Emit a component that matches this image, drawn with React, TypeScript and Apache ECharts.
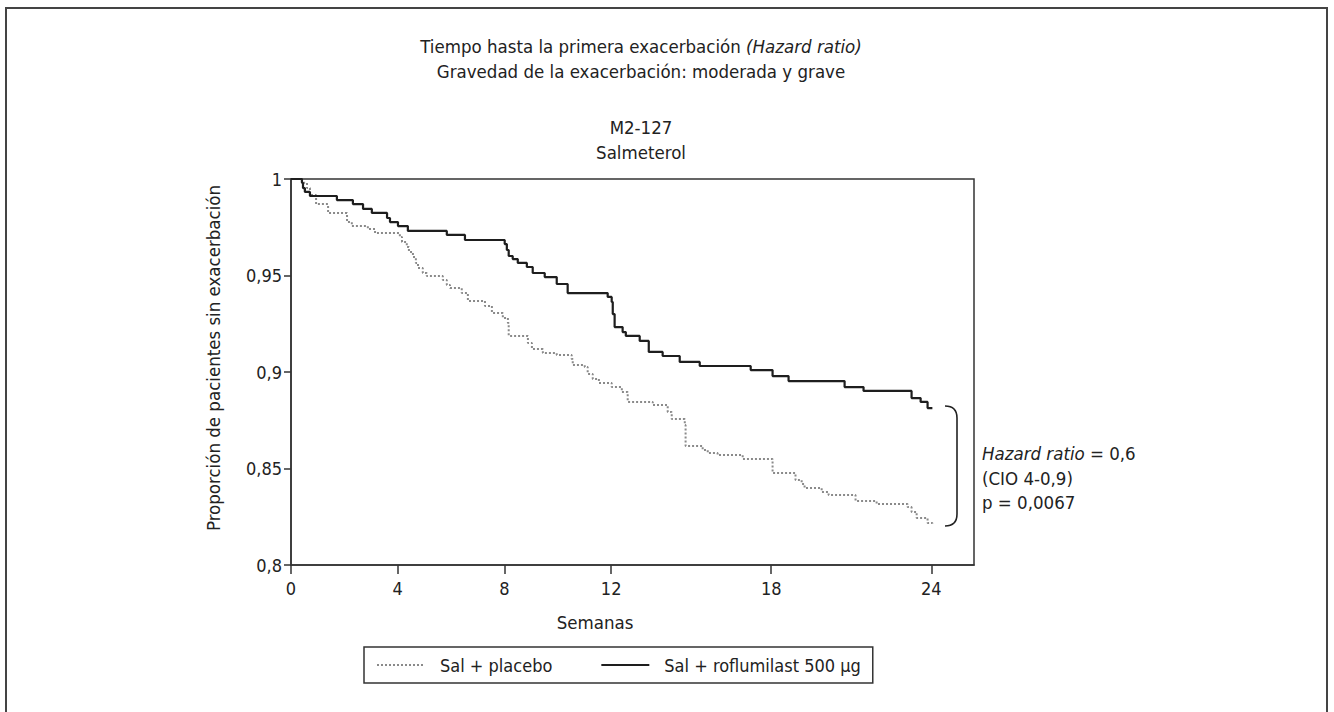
import React, { useEffect, useRef } from "react";
import * as echarts from "echarts";

// ---- data ----
const X_TICKS = [0, 4, 8, 12, 18, 24];
const X_MAX = 25.6;
const Y_MIN = 0.8;
const Y_MAX = 1;
const Y_INTERVAL = 0.05;

const SERIES_NAMES = ["Sal + placebo", "Sal + roflumilast 500 μg"];

const PLACEBO_WEEKS = [0, 0.41, 0.6, 0.71, 0.94, 1.39, 2.1, 2.28, 2.88, 3.15, 4.08, 4.16, 4.34, 4.42, 4.57, 4.68, 4.76, 4.94, 5.09, 5.69, 5.84, 5.96, 6.4, 6.63, 7.27, 7.53, 7.94, 8.13, 8.16, 8.88, 9.03, 9.44, 9.96, 10.52, 10.56, 11.01, 11.12, 11.31, 11.54, 12.02, 12.4, 12.62, 13.56, 14.12, 14.27, 14.76, 14.79, 15.43, 15.62, 15.99, 16.93, 18.05, 18.91, 19.14, 19.25, 19.89, 20.15, 21.16, 21.95, 23.11, 23.26, 23.45, 23.86, 24.04];
const PLACEBO_SURV = [1, 0.998, 0.9953, 0.9917, 0.987, 0.9824, 0.9777, 0.9756, 0.9741, 0.972, 0.97, 0.9674, 0.9648, 0.9622, 0.9596, 0.9565, 0.9539, 0.9513, 0.9497, 0.9477, 0.9451, 0.9435, 0.9409, 0.9368, 0.9342, 0.9306, 0.928, 0.9254, 0.9187, 0.915, 0.9119, 0.9098, 0.9088, 0.9067, 0.9036, 0.9026, 0.899, 0.8964, 0.8943, 0.8922, 0.8896, 0.8845, 0.8829, 0.8793, 0.8756, 0.8725, 0.8617, 0.8596, 0.858, 0.857, 0.8549, 0.8477, 0.844, 0.842, 0.8399, 0.8378, 0.8363, 0.8332, 0.8316, 0.83, 0.8275, 0.8244, 0.8218, 0.8207];

const ROFLU_WEEKS = [0, 0.41, 0.45, 0.52, 0.71, 1.72, 2.32, 2.7, 3.03, 3.6, 3.71, 4.01, 4.38, 5.84, 6.52, 8.01, 8.09, 8.16, 8.31, 8.5, 8.84, 9.06, 9.51, 9.96, 10.37, 11.87, 12.02, 12.06, 12.13, 12.43, 12.55, 13.07, 13.41, 13.93, 14.57, 15.32, 17.23, 18.05, 18.65, 20.75, 21.46, 23.26, 23.6, 23.86, 24.04];
const ROFLU_SURV = [1, 0.998, 0.9953, 0.9933, 0.9912, 0.9891, 0.987, 0.9845, 0.9824, 0.9798, 0.9777, 0.9756, 0.9731, 0.971, 0.9684, 0.9663, 0.9632, 0.9601, 0.9585, 0.9565, 0.9544, 0.9513, 0.9492, 0.9456, 0.9409, 0.9389, 0.9363, 0.93, 0.9233, 0.9207, 0.9187, 0.9161, 0.9104, 0.9083, 0.9052, 0.9031, 0.901, 0.8979, 0.8953, 0.8922, 0.8902, 0.8865, 0.8845, 0.8813, 0.8813];

const TITLE_1 = "Tiempo hasta la primera exacerbación ";
const TITLE_1_IT = "(Hazard ratio)";
const TITLE_2 = "Gravedad de la exacerbación: moderada y grave";
const SUB_1 = "M2-127";
const SUB_2 = "Salmeterol";
const X_NAME = "Semanas";
const Y_NAME = "Proporción de pacientes sin exacerbación";
const NOTE_HR_IT = "Hazard ratio";
const NOTE_HR = " = 0,6";
const NOTE_CI = "(CIO 4-0,9)";
const NOTE_P = "p = 0,0067";

const FONT = "'DejaVu Sans Condensed', 'Liberation Sans Narrow', 'Noto Sans', sans-serif";
const TXT = "#222";
const FS = 18;
const FS_T = 18.5;

echarts.graphic.registerShape(
  "bracket",
  echarts.graphic.extendPath("M945,406 Q957,406 957,418 L957,514 Q957,526 945,526", {})
);

const zip = (xs: number[], ys: number[]) => xs.map((x, i) => [x, ys[i]]);

export default function App() {
  const ref = useRef<HTMLDivElement>(null);
  useEffect(() => {
    if (!ref.current) return;
    const chart = echarts.init(ref.current, null, { renderer: "svg" });
    const textBase = { fontFamily: FONT, fontSize: FS_T, fill: TXT };
    const italicRich = { i: { fontStyle: "italic", fontFamily: FONT, fontSize: FS_T, fill: TXT } };
    chart.setOption({
      animation: false,
      backgroundColor: "#fff",
      grid: {
        left: 291,
        right: 360,
        top: 179,
        bottom: 147,
        show: true,
        borderColor: "#333",
        borderWidth: 1.5,
        backgroundColor: "transparent",
      },
      legend: {
        left: 364,
        top: 647,
        padding: [9, 12, 9, 12],
        itemGap: 48,
        itemWidth: 48,
        itemHeight: 12,
        borderColor: "#333",
        borderWidth: 1.5,
        data: SERIES_NAMES,
        itemStyle: { opacity: 0 },
        textStyle: { fontFamily: FONT, fontSize: FS, color: TXT, padding: [0, 0, 0, 10] },
      },
      xAxis: {
        type: "value",
        min: 0,
        max: X_MAX,
        splitLine: { show: false },
        axisLine: { lineStyle: { color: "#333", width: 1.5 } },
        axisTick: { customValues: X_TICKS, length: 9, lineStyle: { color: "#333", width: 1.5 } },
        axisLabel: {
          customValues: X_TICKS,
          margin: 14,
          fontFamily: FONT,
          fontSize: FS,
          color: TXT,
        },
      },
      yAxis: {
        type: "value",
        min: Y_MIN,
        max: Y_MAX,
        interval: Y_INTERVAL,
        splitLine: { show: false },
        axisLine: { lineStyle: { color: "#333", width: 1.5 } },
        axisTick: { length: 7, lineStyle: { color: "#333", width: 1.5 } },
        axisLabel: {
          margin: 9,
          fontFamily: FONT,
          fontSize: FS,
          color: TXT,
          formatter: (v: number) => String(+v.toFixed(2)).replace(".", ","),
        },
      },
      series: [
        {
          name: SERIES_NAMES[0],
          type: "line",
          step: "end",
          data: zip(PLACEBO_WEEKS, PLACEBO_SURV),
          showSymbol: false,
          symbol: "none",
          lineStyle: { color: "#8a8a8a", width: 2, type: [2, 2] },
          itemStyle: { color: "#8a8a8a" },
          z: 2,
        },
        {
          name: SERIES_NAMES[1],
          type: "line",
          step: "end",
          data: zip(ROFLU_WEEKS, ROFLU_SURV),
          showSymbol: false,
          symbol: "none",
          lineStyle: { color: "#1e1e1e", width: 2.2 },
          itemStyle: { color: "#1e1e1e" },
          z: 3,
        },
      ],
      graphic: [
        {
          type: "rect",
          shape: { x: 6, y: 8, width: 1321, height: 730 },
          style: { fill: "none", stroke: "#444", lineWidth: 2 },
          silent: true,
        },
        {
          type: "text",
          x: 641,
          y: 46,
          style: {
            ...textBase,
            text: TITLE_1 + "{i|" + TITLE_1_IT + "}",
            rich: italicRich,
            align: "center",
            verticalAlign: "middle",
          },
        },
        {
          type: "text",
          x: 641,
          y: 71,
          style: { ...textBase, text: TITLE_2, align: "center", verticalAlign: "middle" },
        },
        {
          type: "text",
          x: 641,
          y: 127,
          style: { ...textBase, text: SUB_1, align: "center", verticalAlign: "middle" },
        },
        {
          type: "text",
          x: 641,
          y: 152,
          style: { ...textBase, text: SUB_2, align: "center", verticalAlign: "middle" },
        },
        {
          type: "text",
          x: 595,
          y: 622,
          style: { ...textBase, text: X_NAME, align: "center", verticalAlign: "middle" },
        },
        {
          type: "text",
          x: 213,
          y: 358,
          rotation: Math.PI / 2,
          style: { ...textBase, text: Y_NAME, align: "center", verticalAlign: "middle" },
        },
        {
          type: "bracket",
          style: { fill: "none", stroke: "#222", lineWidth: 1.6 },
          silent: true,
        },
        {
          type: "text",
          x: 982,
          y: 453,
          style: {
            ...textBase,
            text: "{i|" + NOTE_HR_IT + "}" + NOTE_HR,
            rich: italicRich,
            align: "left",
            verticalAlign: "middle",
          },
        },
        {
          type: "text",
          x: 982,
          y: 478,
          style: { ...textBase, text: NOTE_CI, align: "left", verticalAlign: "middle" },
        },
        {
          type: "text",
          x: 982,
          y: 502,
          style: { ...textBase, text: NOTE_P, align: "left", verticalAlign: "middle" },
        },
      ],
    });
    return () => chart.dispose();
  }, []);
  return (
    <div
      ref={ref}
      style={{ position: "absolute", left: 0, top: 0, width: 1334, height: 712 }}
    />
  );
}
